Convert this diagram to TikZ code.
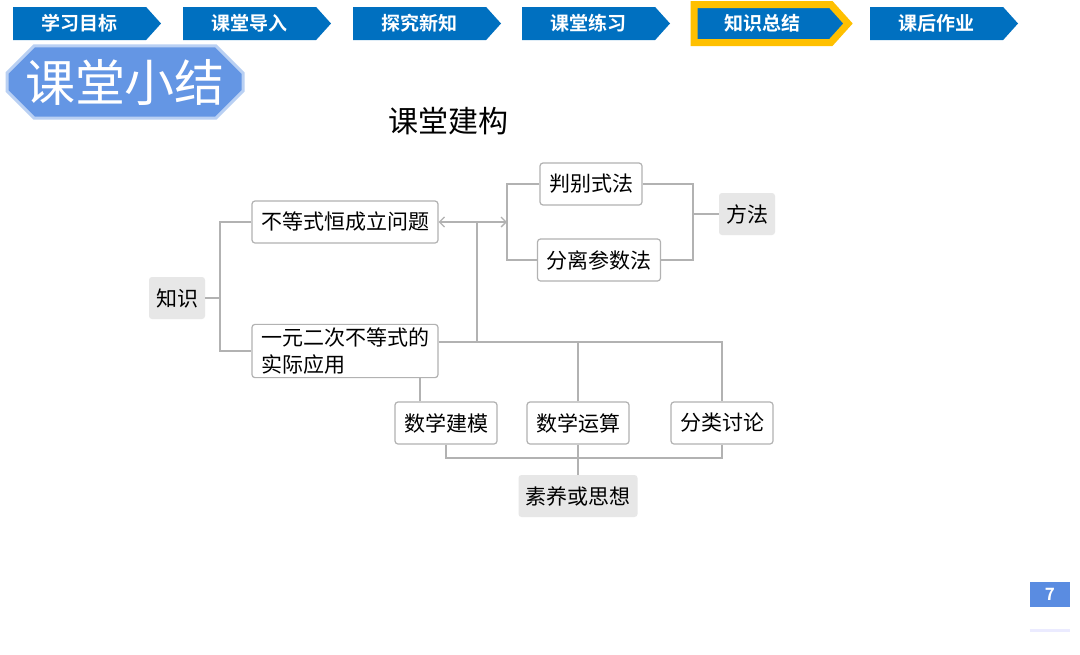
\documentclass[tikz,border=0pt]{standalone}
\usepackage{fontspec}
\setmainfont{Noto Sans CJK SC}[BoldFont={Noto Sans CJK SC Bold}]
\usetikzlibrary{shapes.symbols,shapes.misc,arrows.meta,positioning}
\definecolor{tabblue}{RGB}{0,112,192}
\definecolor{tabyellow}{RGB}{255,192,0}
\definecolor{titleblue}{RGB}{100,150,228}
\definecolor{pageblue}{RGB}{90,140,225}
\definecolor{linegray}{RGB}{178,178,178}
\definecolor{boxgray}{RGB}{231,231,231}

\begin{document}
\begin{tikzpicture}[x=1pt,y=-1pt,
  tab/.style={signal, signal to=east, signal pointer angle=96, fill=tabblue, text=white,
    font=\bfseries\fontsize{19}{19}\selectfont, minimum width=148pt, minimum height=33pt,
    inner sep=0pt, outer sep=0pt, anchor=west},
  box/.style={draw=linegray, line width=1.2pt, rounded corners=3pt, fill=white,
    font=\fontsize{21}{27}\selectfont, inner xsep=9pt, minimum height=42pt},
  graybox/.style={fill=boxgray, rounded corners=3pt, font=\fontsize{21}{27}\selectfont,
    inner xsep=7pt, minimum height=42pt},
  link/.style={draw=linegray, line width=1.5pt},
  tip/.tip={Straight Barb[length=5pt,width=10pt,line width=1.3pt]}]

  \fill[white] (0,0) rectangle (1080,654);
  \useasboundingbox (0,0) rectangle (1080,654);

  % top navigation
  \node[tab] (t1) at (13,23.5) {学习目标};
  \node[tab] (t2) at (183,23.5) {课堂导入};
  \node[tab] (t3) at (353,23.5) {探究新知};
  \node[tab] (t4) at (522,23.5) {课堂练习};
  \node[tab, draw=tabyellow, line width=7pt, minimum width=154pt, minimum height=38pt] (t5) at (694,23.5) {知识总结};
  \node[tab] (t6) at (870,23.5) {课后作业};

  % title
  \node[chamfered rectangle, chamfered rectangle xsep=14pt, chamfered rectangle ysep=13pt,
    fill=titleblue, draw=titleblue!45, line width=3pt, text=white, inner sep=0pt,
    font=\fontsize{50}{50}\selectfont, minimum width=236pt, minimum height=56pt] (banner) at (125,82) {课堂小结};
  \node[font=\fontsize{30}{30}\selectfont] (goucheng) at (448,121) {课堂建构};

  % nodes
  \node[graybox] (zhishi) at (177,298) {知识};
  \node[box] (budengshi) at (345,222) {不等式恒成立问题};
  \node[box, align=left] (yiyuan) at (345,351) {一元二次不等式的\\实际应用};
  \node[box] (panbie) at (591,184) {判别式法};
  \node[box] (fenli) at (599,260) {分离参数法};
  \node[graybox] (fangfa) at (747,214) {方法};
  \node[box] (jianmo) at (446,423) {数学建模};
  \node[box] (yunsuan) at (578,423) {数学运算};
  \node[box] (fenlei) at (722,423) {分类讨论};
  \node[graybox] (suyang) at (578,496) {素养或思想};

  % junctions
  \coordinate (kj) at (220,298);
  \coordinate (mj) at (507,222);
  \coordinate (aj) at (477,222);
  \coordinate (fj) at (693,214);
  \coordinate (sj) at (578,458);
  \coordinate (yr) at ([yshift=9pt]yiyuan.east);

  % connectors
  \draw[link] (zhishi) -- (kj);
  \draw[link] (budengshi.west) -| (kj) |- (yiyuan.west);
  \draw[link, tip-tip] (budengshi.east) -- (mj);
  \draw[link] (panbie.west) -| (mj) |- (fenli.west);
  \draw[link] (panbie.east) -| (fj) |- (fenli.east);
  \draw[link] (fj) -- (fangfa.west);
  \draw[link] (aj) -- (aj |- yr);
  \draw[link] (yr) -| (fenlei.north);
  \draw[link] (yunsuan.north) -- (yunsuan.north |- yr);
  \draw[link] ([xshift=-26pt]jianmo.north) -- ([xshift=-26pt]jianmo.north |- yiyuan.south);
  \draw[link] (jianmo.south) |- (sj) -| (fenlei.south);
  \draw[link] (yunsuan.south) -- (suyang.north);

  % page number
  \node[fill=pageblue, text=white, font=\bfseries\fontsize{17}{17}\selectfont,
    minimum width=40pt, minimum height=25pt, inner sep=0pt] (page) at (1050,594) {7};
  \draw[blue!8, line width=3pt] ([yshift=-24pt]page.south west) -- ([yshift=-24pt]page.south east);
\end{tikzpicture}
\end{document}
